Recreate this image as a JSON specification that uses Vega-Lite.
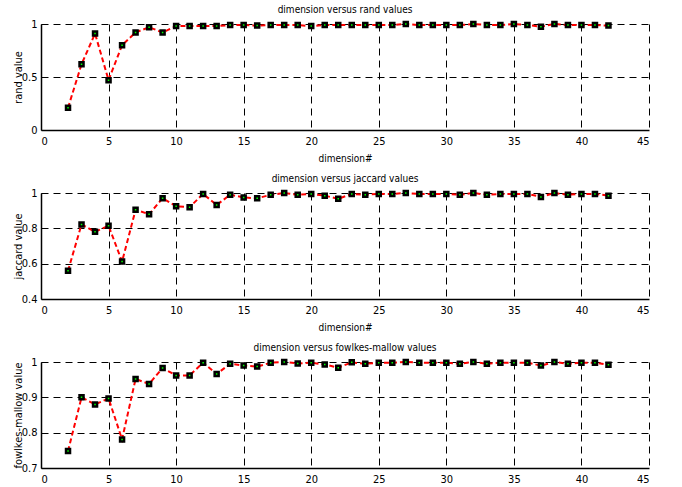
{
  "$schema": "https://vega.github.io/schema/vega-lite/v6.json",
  "padding": {"left": 12, "top": 5, "right": 5, "bottom": 0},
  "background": "white",
  "datasets": {
    "vals": [
      {"d": 2, "rand": 0.21, "jaccard": 0.56, "fm": 0.748},
      {"d": 3, "rand": 0.62, "jaccard": 0.822, "fm": 0.90},
      {"d": 4, "rand": 0.91, "jaccard": 0.78, "fm": 0.88},
      {"d": 5, "rand": 0.47, "jaccard": 0.815, "fm": 0.897},
      {"d": 6, "rand": 0.80, "jaccard": 0.612, "fm": 0.781},
      {"d": 7, "rand": 0.92, "jaccard": 0.905, "fm": 0.952},
      {"d": 8, "rand": 0.97, "jaccard": 0.88, "fm": 0.938},
      {"d": 9, "rand": 0.92, "jaccard": 0.97, "fm": 0.983},
      {"d": 10, "rand": 0.98, "jaccard": 0.925, "fm": 0.962},
      {"d": 11, "rand": 0.98, "jaccard": 0.92, "fm": 0.962},
      {"d": 12, "rand": 0.98, "jaccard": 0.995, "fm": 0.998},
      {"d": 13, "rand": 0.98, "jaccard": 0.932, "fm": 0.966},
      {"d": 14, "rand": 0.99, "jaccard": 0.99, "fm": 0.995},
      {"d": 15, "rand": 0.99, "jaccard": 0.975, "fm": 0.99},
      {"d": 16, "rand": 0.985, "jaccard": 0.97, "fm": 0.987},
      {"d": 17, "rand": 0.99, "jaccard": 0.99, "fm": 0.998},
      {"d": 18, "rand": 0.99, "jaccard": 1.0, "fm": 1.0},
      {"d": 19, "rand": 0.99, "jaccard": 0.99, "fm": 0.996},
      {"d": 20, "rand": 0.98, "jaccard": 0.995, "fm": 0.998},
      {"d": 21, "rand": 0.99, "jaccard": 0.985, "fm": 0.993},
      {"d": 22, "rand": 0.99, "jaccard": 0.967, "fm": 0.984},
      {"d": 23, "rand": 0.99, "jaccard": 0.995, "fm": 0.999},
      {"d": 24, "rand": 0.99, "jaccard": 0.99, "fm": 0.995},
      {"d": 25, "rand": 0.99, "jaccard": 0.995, "fm": 0.998},
      {"d": 26, "rand": 0.99, "jaccard": 0.995, "fm": 0.998},
      {"d": 27, "rand": 1.0, "jaccard": 1.0, "fm": 1.0},
      {"d": 28, "rand": 0.99, "jaccard": 0.995, "fm": 0.998},
      {"d": 29, "rand": 0.99, "jaccard": 0.995, "fm": 0.998},
      {"d": 30, "rand": 0.99, "jaccard": 0.995, "fm": 0.998},
      {"d": 31, "rand": 0.99, "jaccard": 0.99, "fm": 0.995},
      {"d": 32, "rand": 1.0, "jaccard": 1.0, "fm": 1.0},
      {"d": 33, "rand": 0.99, "jaccard": 0.99, "fm": 0.995},
      {"d": 34, "rand": 0.99, "jaccard": 0.995, "fm": 0.998},
      {"d": 35, "rand": 1.0, "jaccard": 0.995, "fm": 0.998},
      {"d": 36, "rand": 0.99, "jaccard": 0.995, "fm": 0.998},
      {"d": 37, "rand": 0.975, "jaccard": 0.978, "fm": 0.99},
      {"d": 38, "rand": 1.0, "jaccard": 1.0, "fm": 1.0},
      {"d": 39, "rand": 0.99, "jaccard": 0.99, "fm": 0.995},
      {"d": 40, "rand": 0.99, "jaccard": 0.995, "fm": 0.998},
      {"d": 41, "rand": 0.99, "jaccard": 0.995, "fm": 0.998},
      {"d": 42, "rand": 0.985, "jaccard": 0.985, "fm": 0.992}
    ]
  },
  "config": {
    "view": {"stroke": null},
    "font": "'Liberation Sans Narrow', 'DejaVu Sans Condensed', 'Liberation Sans'",
    "title": {"fontSize": 10, "fontWeight": "normal", "font": "'Liberation Sans Narrow', 'DejaVu Sans Condensed', 'Liberation Sans'", "color": "black", "offset": 2},
    "concat": {"spacing": 11},
    "axis": {
      "domainColor": "black",
      "domainWidth": 1.5,
      "grid": true,
      "gridColor": "black",
      "gridDash": [7, 5],
      "gridWidth": 1,
      "gridOpacity": 1,
      "ticks": false,
      "labelFont": "'Liberation Sans Narrow', 'DejaVu Sans Condensed', 'Liberation Sans'",
      "labelFontSize": 11,
      "labelColor": "black",
      "titleFont": "'Liberation Sans Narrow', 'DejaVu Sans Condensed', 'Liberation Sans'",
      "titleFontSize": 11,
      "titleFontWeight": "normal",
      "titleColor": "black"
    }
  },
  "vconcat": [
    {
      "title": "dimension versus rand values",
      "width": 608,
      "height": 106,
      "data": {"name": "vals"},
      "encoding": {
        "x": {"field": "d", "type": "quantitative", "scale": {"domain": [0, 45], "nice": false}, "axis": {"values": [0,5,10,15,20,25,30,35,40,45], "title": "dimension#", "titleFontSize": 10, "labelPadding": 5, "titlePadding": 7}},
        "y": {"field": "rand", "type": "quantitative", "scale": {"domain": [0, 1], "nice": false, "zero": false}, "axis": {"values": [0, 0.5, 1], "format": "~g", "title": "rand value", "labelPadding": 4, "minExtent": 14, "maxExtent": 14, "titlePadding": 4}}
      },
      "layer": [
        {"mark": {"type": "line", "color": "#ff0000", "strokeWidth": 2, "strokeDash": [5, 3]}},
        {"mark": {"type": "point", "shape": "square", "filled": true, "fill": "#00ff00", "stroke": "black", "strokeWidth": 2.5, "size": 16, "opacity": 1}}
      ]
    },
    {
      "title": "dimension versus jaccard values",
      "width": 608,
      "height": 106,
      "data": {"name": "vals"},
      "encoding": {
        "x": {"field": "d", "type": "quantitative", "scale": {"domain": [0, 45], "nice": false}, "axis": {"values": [0,5,10,15,20,25,30,35,40,45], "title": "dimension#", "titleFontSize": 10, "labelPadding": 5, "titlePadding": 7}},
        "y": {"field": "jaccard", "type": "quantitative", "scale": {"domain": [0.4, 1], "nice": false, "zero": false}, "axis": {"values": [0.4, 0.6, 0.8, 1], "format": "~g", "title": "jaccard value", "labelPadding": 4, "minExtent": 14, "maxExtent": 14, "titlePadding": 4}}
      },
      "layer": [
        {"mark": {"type": "line", "color": "#ff0000", "strokeWidth": 2, "strokeDash": [5, 3]}},
        {"mark": {"type": "point", "shape": "square", "filled": true, "fill": "#00ff00", "stroke": "black", "strokeWidth": 2.5, "size": 16, "opacity": 1}}
      ]
    },
    {
      "title": "dimension versus fowlkes-mallow values",
      "width": 608,
      "height": 106,
      "data": {"name": "vals"},
      "encoding": {
        "x": {"field": "d", "type": "quantitative", "scale": {"domain": [0, 45], "nice": false}, "axis": {"values": [0,5,10,15,20,25,30,35,40,45], "title": null, "labelPadding": 5}},
        "y": {"field": "fm", "type": "quantitative", "scale": {"domain": [0.7, 1], "nice": false, "zero": false}, "axis": {"values": [0.7, 0.8, 0.9, 1], "format": "~g", "title": "fowlkes-mallow value", "labelPadding": 4, "minExtent": 14, "maxExtent": 14, "titlePadding": 4}}
      },
      "layer": [
        {"mark": {"type": "line", "color": "#ff0000", "strokeWidth": 2, "strokeDash": [5, 3]}},
        {"mark": {"type": "point", "shape": "square", "filled": true, "fill": "#00ff00", "stroke": "black", "strokeWidth": 2.5, "size": 16, "opacity": 1}}
      ]
    }
  ]
}
